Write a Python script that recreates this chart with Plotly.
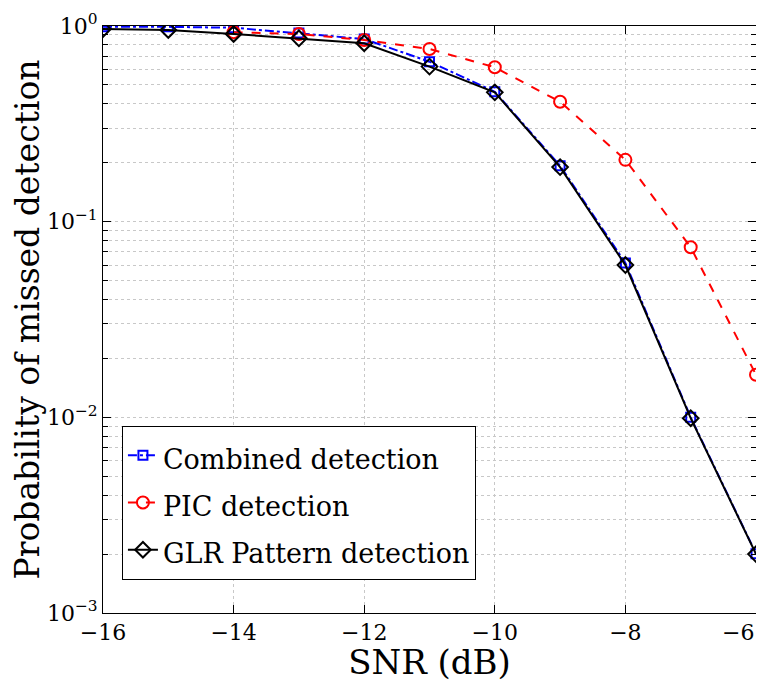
import plotly.graph_objects as go

snr = [-16, -15, -14, -13, -12, -11, -10, -9, -8, -7, -6]
combined = [0.99, 0.99, 0.98, 0.92, 0.858, 0.657, 0.461, 0.193, 0.0615, 0.0100, 0.00201]
pic_snr = [-14, -13, -12, -11, -10, -9, -8, -7, -6]
pic = [0.93, 0.91, 0.848, 0.763, 0.615, 0.41, 0.207, 0.074, 0.0165]
glr = [0.965, 0.954, 0.91, 0.865, 0.816, 0.62, 0.458, 0.19, 0.06, 0.0099, 0.002]
x_ticks = [-16, -14, -12, -10, -8, -6]
x_labels = ["\u221216", "\u221214", "\u221212", "\u221210", "\u22128", "\u22126"]
y_ticks = [0.001, 0.01, 0.1, 1]
y_labels = ["10<sup>\u22123</sup>", "10<sup>\u22122</sup>", "10<sup>\u22121</sup>", "10<sup>0</sup>"]

serif = "DejaVu Serif"
grid = "#c8c8c8"


def leg(name):
    # smaller visible text, while the legend font size sets the row spacing
    return '<span style="font-size:27px">' + name + '</span>'


fig = go.Figure()
fig.add_trace(go.Scatter(x=snr, y=combined, name=leg("Combined detection"), mode="lines+markers",
                         line=dict(color="blue", width=2, dash="dashdot"),
                         marker=dict(symbol="square-open", size=9, color="blue", line=dict(width=2))))
fig.add_trace(go.Scatter(x=pic_snr, y=pic, name=leg("PIC detection"), mode="lines+markers",
                         line=dict(color="red", width=2, dash="dash"),
                         marker=dict(symbol="circle-open", size=12, color="red", line=dict(width=2))))
fig.add_trace(go.Scatter(x=snr, y=glr, name=leg("GLR Pattern detection"), mode="lines+markers",
                         line=dict(color="black", width=2),
                         marker=dict(symbol="diamond-open", size=12, color="black", line=dict(width=2))))

# page body has an 8px margin, so the figure is 16px smaller than the window
fig.update_layout(
    width=748, height=674,
    margin=dict(l=95, r=0, t=18, b=69),
    paper_bgcolor="white", plot_bgcolor="white",
    font=dict(family=serif, size=22, color="black"),
    legend=dict(x=0.029, y=0.319, xanchor="left", yanchor="top",
                bordercolor="black", borderwidth=1, bgcolor="white",
                font=dict(family=serif, size=34), tracegroupgap=0,
                itemwidth=30),
)

# the last tick label sits at the right edge of the page, so draw it right-aligned
fig.add_annotation(x=x_ticks[-1], y=0, xref="x", yref="paper", text=x_labels[-1],
                   xanchor="right", yanchor="top", yshift=-5, showarrow=False,
                   font=dict(family=serif, size=22))

fig.update_xaxes(
    range=[-16, -6], tickvals=x_ticks[:-1], ticktext=x_labels[:-1],
    automargin=False,
    showline=True, linecolor="black", linewidth=1, mirror="allticks",
    ticks="inside", ticklen=8, tickcolor="black",
    showgrid=True, gridcolor=grid, griddash="dot", zeroline=False,
    title=dict(text="SNR (dB)", font=dict(size=34), standoff=22),
)
fig.update_yaxes(
    type="log", range=[-3, 0], tickvals=y_ticks, ticktext=y_labels, automargin=False,
    showline=True, linecolor="black", linewidth=1, mirror="allticks",
    ticks="inside", ticklen=8, tickcolor="black",
    showgrid=True, gridcolor=grid, griddash="dot", zeroline=False,
    minor=dict(dtick="D1", ticks="inside", ticklen=5, tickcolor="black",
               showgrid=True, gridcolor=grid, griddash="dot"),
    title=dict(text="Probability of missed detection", font=dict(size=33), standoff=10),
)

fig.write_html("out.html")
